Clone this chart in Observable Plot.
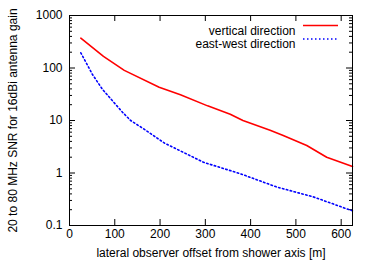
<!DOCTYPE html>
<html><head><meta charset="utf-8">
<script src="https://cdn.jsdelivr.net/npm/d3@7"></script>
<script src="https://cdn.jsdelivr.net/npm/@observablehq/plot@0.6"></script>
<style>
body{margin:0;background:#fff;}
#c{position:relative;width:373px;height:262px;font-family:"Liberation Sans",Arial,sans-serif;}
</style>
</head><body><div id="c"></div>
<script>
const seriesNames = ["vertical direction", "east-west direction"];
const verticalOffset = [25, 75, 121, 198, 245, 305, 355, 383, 443, 472, 524, 568, 625];
const verticalSNR = [370, 166, 90, 43, 31, 19, 13.2, 10, 6.5, 5.2, 3.34, 2.0, 1.33];
const eastWestOffset = [25, 50, 73, 117, 135, 164, 210, 296, 377, 458, 539, 625];
const eastWestSNR = [195, 77, 39, 14.4, 10, 6.9, 3.7, 1.6, 0.97, 0.54, 0.35, 0.19];
const xTicks = [0, 100, 200, 300, 400, 500, 600];
const yTicks = [0.1, 1, 10, 100, 1000];
const yTickLabels = ["0.1", "1", "10", "100", "1000"];
const yMinor = [];
for (const d of [0.1, 1, 10, 100]) for (let k = 2; k <= 9; k++) yMinor.push(d * k);

const vertical = verticalOffset.map((x, i) => ({x, y: verticalSNR[i]}));
const eastWest = eastWestOffset.map((x, i) => ({x, y: eastWestSNR[i]}));

const W = 373, H = 262, mL = 69, mR = 21, mT = 15, mB = 37;
const innerH = H - mT - mB, innerW = W - mL - mR;
const FS = "12px";
const major = 6, minor = 3;

const chart = Plot.plot({
  width: W, height: H,
  marginLeft: mL, marginRight: mR, marginTop: mT, marginBottom: mB,
  style: {fontFamily: '"Liberation Sans", Arial, sans-serif', fontSize: FS, background: "#fff", color: "#000"},
  x: {domain: [0, 625], axis: null},
  y: {type: "log", domain: [0.1, 1000], axis: null},
  marks: [
    Plot.ruleX(xTicks, {x: d => d, insetTop: innerH - major, stroke: "#000"}),
    Plot.ruleX(xTicks, {x: d => d, insetBottom: innerH - major, stroke: "#000"}),
    Plot.ruleY(yTicks, {y: d => d, insetRight: innerW - major, stroke: "#000"}),
    Plot.ruleY(yTicks, {y: d => d, insetLeft: innerW - major, stroke: "#000"}),
    Plot.ruleY(yMinor, {y: d => d, insetRight: innerW - minor, stroke: "#000"}),
    Plot.ruleY(yMinor, {y: d => d, insetLeft: innerW - minor, stroke: "#000"}),
    Plot.text(xTicks, {x: d => d, frameAnchor: "bottom", dy: 12, text: d => String(d), fill: "#000", fontSize: FS}),
    Plot.text(yTicks, {y: d => d, frameAnchor: "left", dx: -7, textAnchor: "end", text: (d, i) => yTickLabels[i], fill: "#000", fontSize: FS}),
    Plot.text(["lateral observer offset from shower axis [m]"], {frameAnchor: "bottom", dy: 31, text: d => d, fill: "#000", fontSize: FS}),
    Plot.text(["20 to 80 MHz SNR for 16dBi antenna gain"], {frameAnchor: "left", dx: -56, rotate: -90, textAnchor: "middle", text: d => d, fill: "#000", fontSize: FS}),
    Plot.line(vertical, {x: "x", y: "y", stroke: "#ff0000", strokeWidth: 1.6, curve: "linear"}),
    Plot.line(eastWest, {x: "x", y: "y", stroke: "#0000ff", strokeWidth: 1.6, strokeDasharray: "1.5,2.5", curve: "linear"}),
    Plot.text([seriesNames[0]], {frameAnchor: "top-right", dx: -57, dy: 10.5, textAnchor: "end", text: d => d, fill: "#000", fontSize: FS}),
    Plot.text([seriesNames[1]], {frameAnchor: "top-right", dx: -57, dy: 24, textAnchor: "end", text: d => d, fill: "#000", fontSize: FS}),
    Plot.frame({stroke: "#000", strokeWidth: 1})
  ]
});
document.getElementById("c").appendChild(chart);

const svg = d3.select(chart);
const lx1 = W - mR - 49, lx2 = W - mR - 14;
svg.append("line").attr("x1", lx1).attr("x2", lx2).attr("y1", mT + 10.5).attr("y2", mT + 10.5)
  .attr("stroke", "#ff0000").attr("stroke-width", 1.6);
svg.append("line").attr("x1", lx1).attr("x2", lx2).attr("y1", mT + 24).attr("y2", mT + 24)
  .attr("stroke", "#0000ff").attr("stroke-width", 1.6).attr("stroke-dasharray", "1.5,2.5");
</script>
</body></html>
